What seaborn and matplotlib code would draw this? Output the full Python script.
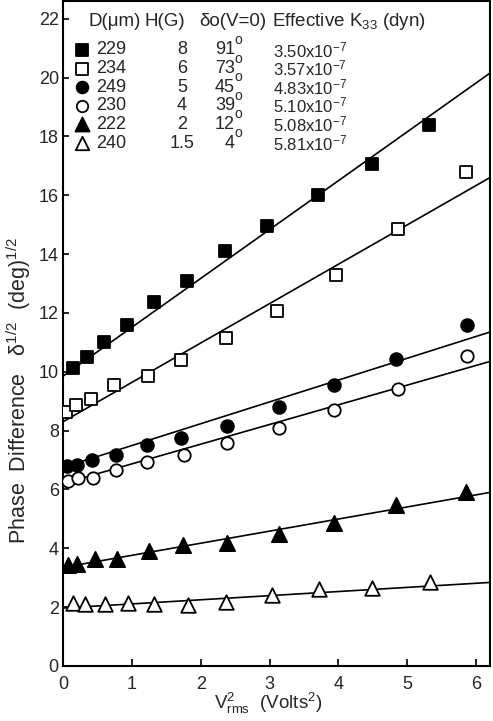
import numpy as np
import pandas as pd
import seaborn as sns
import matplotlib
matplotlib.use("Agg")
import matplotlib.pyplot as plt

# series: V_rms^2 (Volts^2) vs delta^1/2 (deg^1/2)
x_sq_f = [0.14, 0.35, 0.59, 0.93, 1.32, 1.80, 2.35, 2.96, 3.70, 4.49, 5.32]
y_sq_f = [10.13, 10.5, 11.0, 11.58, 12.37, 13.1, 14.1, 14.95, 16.0, 17.05, 18.4]

x_sq_o = [0.04, 0.19, 0.40, 0.74, 1.23, 1.72, 2.36, 3.10, 3.96, 4.86, 5.85]
y_sq_o = [8.62, 8.86, 9.07, 9.55, 9.84, 10.39, 11.16, 12.07, 13.3, 14.85, 16.8]

x_ci_f = [0.06, 0.20, 0.42, 0.77, 1.22, 1.72, 2.38, 3.13, 3.94, 4.84, 5.87]
y_ci_f = [6.8, 6.83, 7.0, 7.16, 7.5, 7.76, 8.17, 8.79, 9.55, 10.42, 11.58]

x_ci_o = [0.07, 0.22, 0.43, 0.77, 1.22, 1.75, 2.38, 3.13, 3.94, 4.86, 5.87]
y_ci_o = [6.3, 6.4, 6.4, 6.65, 6.94, 7.16, 7.58, 8.1, 8.69, 9.4, 10.52]

x_tr_f = [0.07, 0.20, 0.46, 0.78, 1.25, 1.74, 2.38, 3.13, 3.94, 4.84, 5.85]
y_tr_f = [3.42, 3.47, 3.62, 3.65, 3.9, 4.1, 4.17, 4.48, 4.86, 5.48, 5.9]

x_tr_o = [0.14, 0.32, 0.61, 0.94, 1.32, 1.81, 2.36, 3.04, 3.72, 4.49, 5.33]
y_tr_o = [2.13, 2.1, 2.1, 2.13, 2.1, 2.06, 2.16, 2.42, 2.6, 2.65, 2.84]

# fitted straight lines: value at V^2 = 0 and at V^2 = 6.2
fit_x = [0.0, 6.2]
fit_y0 = [9.85, 8.3, 6.75, 6.2, 3.35, 1.97]
fit_y1 = [20.15, 16.6, 11.35, 10.35, 5.9, 2.84]

# legend table
diam = ["229", "234", "249", "230", "222", "240"]
field = ["8", "6", "5", "4", "2", "1.5"]
delta0 = ["91", "73", "45", "39", "12", "4"]
k33 = ["3.50", "3.57", "4.83", "5.10", "5.08", "5.81"]

series = [
    (x_sq_f, y_sq_f, "s", "black", 84),
    (x_sq_o, y_sq_o, "s", "white", 76),
    (x_ci_f, y_ci_f, "o", "black", 84),
    (x_ci_o, y_ci_o, "o", "white", 80),
    (x_tr_f, y_tr_f, "^", "black", 120),
    (x_tr_o, y_tr_o, "^", "white", 110),
]

sns.set_style("ticks")
plt.rcParams["font.family"] = ["Liberation Sans", "DejaVu Sans"]
plt.rcParams["mathtext.fontset"] = "custom"
plt.rcParams["mathtext.rm"] = "Liberation Sans"
plt.rcParams["mathtext.it"] = "Liberation Sans"

fig = plt.figure(figsize=(4.93, 7.21), dpi=100)
ax = fig.add_axes([63 / 493, 1 - 666 / 721, 427 / 493, 665 / 721])

for i, (xs, ys, mk, fc, sz) in enumerate(series):
    line_df = pd.DataFrame({"x": fit_x, "y": [fit_y0[i], fit_y1[i]]})
    sns.lineplot(data=line_df, x="x", y="y", ax=ax, color="black", lw=1.2)
    pts = pd.DataFrame({"x": xs, "y": ys})
    sns.scatterplot(data=pts, x="x", y="y", ax=ax, marker=mk, s=sz,
                    facecolor=fc, edgecolor="black", linewidth=1.3, zorder=3)

ax.set_xlim(0, 6.2)
ax.set_ylim(0, 22.6)
ax.set_xticks(range(0, 7))
ax.set_yticks(range(0, 23, 2))
ax.tick_params(axis="both", direction="in", labelsize=13, width=1.2, color="black")
ax.tick_params(axis="x", length=5, pad=7)
ax.tick_params(axis="y", length=4, pad=3)
for sp in ax.spines.values():
    sp.set_linewidth(1.5)
    sp.set_color("black")

ax.set_xlabel(r"$\mathregular{V_{rms}^{2}}$  (Volts$^{\mathregular{2}}$)", fontsize=13.5)
ax.xaxis.set_label_coords(0.48, -0.038)
ax.set_ylabel(r"Phase  Difference   δ$^{\mathregular{1/2}}$  (deg)$^{\mathregular{1/2}}$",
              fontsize=15.5)
ax.yaxis.set_label_coords(-0.07, 0.415)

# table-style legend inside the axes
tr = ax.transAxes
def fx(px):
    return (px - 63) / 427

def fy(py):
    return (666 - py) / 665

hy = fy(22)
ax.text(fx(89), hy, "D(μm)", transform=tr, fontsize=13.5, va="center")
ax.text(fx(145), hy, "H(G)", transform=tr, fontsize=13.5, va="center")
ax.text(fx(199), hy, "δo(V=0)", transform=tr, fontsize=13.5, va="center")
ax.text(fx(272), hy, r"Effective K$_{\mathregular{33}}$ (dyn)", transform=tr,
        fontsize=13.5, va="center")

for i in range(len(diam)):
    ry = fy(50 + 18.6 * i)
    _, _, mk, fc, sz = series[i]
    ax.scatter([fx(82)], [ry], transform=tr, marker=mk, s=sz * 0.85,
               facecolor=fc, edgecolor="black", linewidth=1.3, clip_on=False)
    ax.text(fx(96), ry, diam[i], transform=tr, fontsize=13, va="center")
    ax.text(fx(182), ry, field[i], transform=tr, fontsize=13, va="center", ha="center")
    ax.text(fx(235), ry, delta0[i], transform=tr, fontsize=13, va="center", ha="right")
    ax.text(fx(234), ry + 0.015, "o", transform=tr, fontsize=10, va="center")
    ax.text(fx(273), ry, k33[i] + r"x10$^{\mathregular{-7}}$", transform=tr,
            fontsize=12, va="center")

fig.savefig("out.png", dpi=100)
